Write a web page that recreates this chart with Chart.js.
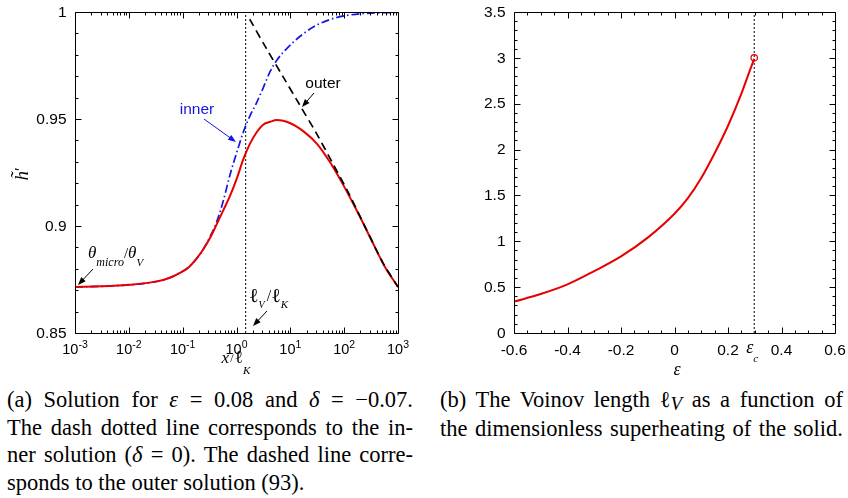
<!DOCTYPE html>
<html><head><meta charset="utf-8">
<script src="https://cdn.jsdelivr.net/npm/chart.js@4.4.0/dist/chart.umd.min.js"></script>
<style>
html,body{margin:0;padding:0;background:#fff;width:848px;height:498px;overflow:hidden;}
#c1{position:absolute;left:0;top:0;}
#c2{position:absolute;left:430px;top:0;}
.cap{position:absolute;font-family:'Liberation Serif','Times New Roman',serif;font-size:22.5px;color:#000;line-height:27.5px;}
.cap div{white-space:nowrap;}
.cap i{font-style:italic;}
.cap .sb{font-style:italic;font-size:19px;position:relative;top:3px;}
</style>
</head><body>
<canvas id="c1" width="420" height="385"></canvas>
<canvas id="c2" width="418" height="385"></canvas>
<div class="cap" style="left:7px;top:386px;width:406px;">
<div class="j"><span>(a) Solution for <i>ε</i> = 0.08 and <i>δ</i> = −0.07.</span></div>
<div class="j"><span>The dash dotted line corresponds to the in-</span></div>
<div class="j"><span>ner solution (<i>δ</i> = 0). The dashed line corre-</span></div>
<div><span>sponds to the outer solution (93).</span></div>
</div>
<div class="cap" style="left:440px;top:386px;width:403px;">
<div class="j"><span>(b) The Voinov length ℓ<span class="sb">V</span> as a function of</span></div>
<div class="j"><span>the dimensionless superheating of the solid.</span></div>
</div>
<script>
// ---------- DATA (left panel) ----------
const RED_X = [0.001,0.00316,0.01,0.0316,0.0562,0.1,0.133,0.178,0.237,0.316,0.422,0.562,0.750,1,1.33,1.78,2.37,3.16,4.22,5.62,10,17.8,31.6,56.2,100,178,316,562,1000];
const RED_Y = [0.8715,0.8718,0.8725,0.874,0.8757,0.8788,0.881,0.8845,0.8888,0.894,0.9004,0.9071,0.9138,0.9218,0.931,0.9385,0.9438,0.9474,0.9487,0.9495,0.9480,0.9441,0.9383,0.9293,0.9184,0.9064,0.8938,0.8812,0.8715];
const INNER_X = [0.001,0.00316,0.01,0.0316,0.0562,0.1,0.133,0.178,0.237,0.316,0.422,0.562,0.750,1,1.33,1.78,2.37,3.16,4.22,5.62,10,17.8,31.6,56.2,100,316,1000];
const INNER_Y = [0.8715,0.8718,0.8725,0.874,0.8757,0.8788,0.881,0.8845,0.8888,0.8945,0.9015,0.9113,0.9235,0.9340,0.9437,0.9515,0.9577,0.9648,0.9722,0.9775,0.9846,0.9900,0.9940,0.9966,0.9982,0.9995,0.9997];
const OUTER_X = [1.76,3.58,7.31,14.9,30.4,62.1,126,257,525,1000];
const OUTER_Y = [0.9966,0.983,0.9698,0.9566,0.9434,0.929,0.9145,0.8985,0.8828,0.8715];
const LV_LK = 1.48;
const LEFT_X_TICKS = [0.001,0.01,0.1,1,10,100,1000];
const LEFT_X_EXP = ['-3','-2','-1','0','1','2','3'];
const LEFT_Y_TICKS = [0.85,0.9,0.95,1];
const LEFT_Y_LABELS = ['0.85','0.9','0.95','1'];

// ---------- DATA (right panel) ----------
const EPS = [-0.6,-0.5,-0.4,-0.3,-0.2,-0.1,0,0.05,0.1,0.15,0.2,0.25,0.28,0.298];
const LV = [0.342,0.425,0.53,0.675,0.835,1.04,1.30,1.47,1.69,1.96,2.26,2.61,2.85,2.99];
const EPS_C = 0.298;
const LV_C = 3.0;
const RIGHT_X_TICKS = [-0.6,-0.4,-0.2,0,0.2,0.4,0.6];
const RIGHT_X_LABELS = ['-0.6','-0.4','-0.2','0','0.2','0.4','0.6'];
const RIGHT_Y_TICKS = [0,0.5,1,1.5,2,2.5,3,3.5];
const RIGHT_Y_LABELS = ['0','0.5','1','1.5','2','2.5','3','3.5'];

const RED = 'rgb(232,0,0)';
const BLUE = 'rgb(20,20,230)';
const SANS = "'Liberation Sans', Arial, sans-serif";
const SERIF = "'Liberation Serif','DejaVu Serif', serif";

function pts(xs, ys){ return xs.map((x,i)=>({x:x, y:ys[i]})); }

function drawRuns(ctx, x, y, parts, align){
  let w = 0;
  parts.forEach(p=>{ ctx.font = p[1]; w += ctx.measureText(p[0]).width + (p[3]||0); });
  let sx = align==='center' ? x - w/2 : (align==='right' ? x - w : x);
  parts.forEach(p=>{ ctx.font = p[1]; ctx.fillText(p[0], sx, y + (p[2]||0)); sx += ctx.measureText(p[0]).width + (p[3]||0); });
}
function arrow(ctx, x1, y1, x2, y2, color){
  ctx.save();
  ctx.strokeStyle = color; ctx.fillStyle = color; ctx.lineWidth = 1;
  const ang = Math.atan2(y2-y1, x2-x1), L = 8, W = 3;
  ctx.beginPath(); ctx.moveTo(x1,y1); ctx.lineTo(x2 - Math.cos(ang)*L*0.8, y2 - Math.sin(ang)*L*0.8); ctx.stroke();
  ctx.beginPath(); ctx.moveTo(x2,y2);
  ctx.lineTo(x2 - L*Math.cos(ang) + W*Math.sin(ang), y2 - L*Math.sin(ang) - W*Math.cos(ang));
  ctx.lineTo(x2 - L*Math.cos(ang) - W*Math.sin(ang), y2 - L*Math.sin(ang) + W*Math.cos(ang));
  ctx.closePath(); ctx.fill();
  ctx.restore();
}
function frameTicks(chart, xMaj, xMin, yMaj, yMin){
  const ctx = chart.ctx, a = chart.chartArea, sx = chart.scales.x, sy = chart.scales.y;
  const L = Math.round(a.left)+0.5, R = Math.round(a.right)+0.5, T = Math.round(a.top)+0.5, B = Math.round(a.bottom)+0.5;
  ctx.save();
  ctx.strokeStyle = '#000'; ctx.lineWidth = 1;
  ctx.beginPath();
  ctx.moveTo(L,T); ctx.lineTo(R,T); ctx.lineTo(R,B); ctx.lineTo(L,B); ctx.closePath();
  const tx = (v, len)=>{ const p = Math.round(sx.getPixelForValue(v))+0.5; ctx.moveTo(p,B); ctx.lineTo(p,B-len); ctx.moveTo(p,T); ctx.lineTo(p,T+len); };
  const ty = (v, len)=>{ const p = Math.round(sy.getPixelForValue(v))+0.5; ctx.moveTo(L,p); ctx.lineTo(L+len,p); ctx.moveTo(R,p); ctx.lineTo(R-len,p); };
  xMaj.forEach(v=>tx(v,6)); xMin.forEach(v=>tx(v,3));
  yMaj.forEach(v=>ty(v,6)); yMin.forEach(v=>ty(v,3));
  ctx.stroke();
  ctx.restore();
}

// ---------- LEFT CHART ----------
const leftDeco = {
  id:'leftDeco',
  afterDraw(chart){
    const ctx = chart.ctx, a = chart.chartArea, sx = chart.scales.x, sy = chart.scales.y;
    const xMin = [];
    for (let d = -3; d < 3; d++) for (let k = 2; k <= 9; k++) xMin.push(k*Math.pow(10,d));
    const yMin = [];
    for (let i = 0; i <= 15; i++) { const v = 0.85 + i*0.01; if (i % 5) yMin.push(v); }
    frameTicks(chart, LEFT_X_TICKS, xMin, LEFT_Y_TICKS, yMin);
    ctx.save();
    ctx.fillStyle = '#000';
    ctx.font = '15.5px ' + SANS; ctx.textAlign = 'right'; ctx.textBaseline = 'middle';
    LEFT_Y_TICKS.forEach((v,i)=>ctx.fillText(LEFT_Y_LABELS[i], a.left - 8.5, sy.getPixelForValue(v)+0.5));
    ctx.textAlign = 'left'; ctx.textBaseline = 'alphabetic';
    LEFT_X_TICKS.forEach((v,i)=>{
      drawRuns(ctx, sx.getPixelForValue(v), 353.5, [['10','14.5px '+SANS,0],[LEFT_X_EXP[i],'10.5px '+SANS,-6]], 'center');
    });
    // axis titles
    drawRuns(ctx, 236, 363, [['x','italic 17px '+SERIF,0,1],['/','12px '+SERIF,-1,1],['ℓ','18px '+SERIF,0,0],['K','italic 11px '+SERIF,11]], 'center');
    ctx.save(); ctx.translate(28, 174); ctx.rotate(-Math.PI/2);
    drawRuns(ctx, 0, 0, [['h\u0303','italic 19px '+SERIF,0],['\u2032','17px '+SERIF,-2]], 'center');
    ctx.restore();
    // annotations
    ctx.fillStyle = BLUE; ctx.font = '15.5px ' + SANS; ctx.textAlign = 'center';
    ctx.fillText('inner', 197, 114);
    arrow(ctx, 204, 119, 236, 142, BLUE);
    ctx.fillStyle = '#000';
    ctx.fillText('outer', 323, 88);
    arrow(ctx, 314, 93, 302, 107, '#000');
    ctx.textAlign = 'left';
    drawRuns(ctx, 88, 258, [['θ','italic 17px '+SERIF,0,0],['micro','italic 12px '+SERIF,8,0],['/','15px '+SERIF,0,0],['θ','italic 17px '+SERIF,0,0],['V','italic 11px '+SERIF,8,0]], 'left');
    arrow(ctx, 93, 269, 78, 285, '#000');
    drawRuns(ctx, 249, 302, [['ℓ','20px '+SERIF,0,0],['V','italic 10px '+SERIF,6,2],['/','16px '+SERIF,-1,0],['ℓ','20px '+SERIF,0,0],['K','italic 11px '+SERIF,6,0]], 'left');
    arrow(ctx, 267, 311, 253, 326, '#000');
    ctx.restore();
  }
};

new Chart(document.getElementById('c1'), {
  type:'scatter',
  data:{ datasets:[
    { label:'outer', data:pts(OUTER_X, OUTER_Y), showLine:true, borderColor:'#000', borderWidth:1.7, borderDash:[8,5], pointRadius:0, order:0, tension:0.3 },
    { label:'solution', data:pts(RED_X, RED_Y), showLine:true, borderColor:RED, borderWidth:2, pointRadius:0, order:1, cubicInterpolationMode:'monotone' },
    { label:'inner', data:pts(INNER_X, INNER_Y), showLine:true, borderColor:BLUE, borderWidth:1.7, borderDash:[8,3,1.5,3], pointRadius:0, order:2, cubicInterpolationMode:'monotone' },
    { label:'lV', data:[{x:LV_LK,y:0.85},{x:LV_LK,y:1}], showLine:true, borderColor:'#000', borderWidth:1, borderDash:[2,2], pointRadius:0, order:3 }
  ]},
  options:{
    responsive:false, animation:false, events:[],
    layout:{ padding:{ left:75, right:22, top:12, bottom:52 } },
    plugins:{ legend:{display:false}, tooltip:{enabled:false} },
    scales:{
      x:{ type:'logarithmic', min:0.001, max:1000, display:false },
      y:{ type:'linear', min:0.85, max:1, display:false }
    }
  },
  plugins:[leftDeco]
});

// ---------- RIGHT CHART ----------
const rightDeco = {
  id:'rightDeco',
  afterDraw(chart){
    const ctx = chart.ctx, a = chart.chartArea, sx = chart.scales.x, sy = chart.scales.y;
    const xMin = [], yMin = [];
    for (let i = 0; i <= 24; i++) { if (i % 4) xMin.push(-0.6 + i*0.05); }
    for (let i = 0; i <= 35; i++) { if (i % 5) yMin.push(i*0.1); }
    frameTicks(chart, RIGHT_X_TICKS, xMin, RIGHT_Y_TICKS, yMin);
    ctx.save();
    ctx.fillStyle = '#000';
    ctx.font = '15.5px ' + SANS; ctx.textAlign = 'right'; ctx.textBaseline = 'middle';
    RIGHT_Y_TICKS.forEach((v,i)=>ctx.fillText(RIGHT_Y_LABELS[i], a.left - 8.5, sy.getPixelForValue(v)+0.5));
    ctx.textAlign = 'center'; ctx.textBaseline = 'alphabetic';
    RIGHT_X_TICKS.forEach((v,i)=>ctx.fillText(RIGHT_X_LABELS[i], sx.getPixelForValue(v), 354.5));
    ctx.textAlign = 'left';
    drawRuns(ctx, sx.getPixelForValue(EPS_C) - 8, 353, [['ε','italic 18px '+SERIF,0,0],['c','italic 11px '+SERIF,9,0]], 'left');
    ctx.font = 'italic 18px ' + SERIF; ctx.textAlign = 'center';
    ctx.fillText('ε', 247, 375);
    ctx.save(); ctx.translate(469, 180); ctx.rotate(-Math.PI/2);
    ctx.textAlign = 'left';
    drawRuns(ctx, 0, 0, [['ℓ','20px '+SERIF,0,0],['v','italic 10px '+SERIF,5,2],['/','16px '+SERIF,-1,0],['ℓ','20px '+SERIF,0,0],['K','italic 11px '+SERIF,5,0]], 'center');
    ctx.restore();
    ctx.restore();
  }
};

new Chart(document.getElementById('c2'), {
  type:'scatter',
  data:{ datasets:[
    { label:'lV', data:pts(EPS, LV), showLine:true, borderColor:RED, borderWidth:2, pointRadius:0, order:1, cubicInterpolationMode:'monotone' },
    { label:'critical', data:[{x:EPS_C, y:LV_C}], showLine:false, borderColor:RED, backgroundColor:'rgba(0,0,0,0)', borderWidth:1.2, pointRadius:3.2, pointStyle:'circle', order:0 },
    { label:'epsc', data:[{x:EPS_C,y:0},{x:EPS_C,y:3.5}], showLine:true, borderColor:'#000', borderWidth:1, borderDash:[2,2], pointRadius:0, order:2 }
  ]},
  options:{
    responsive:false, animation:false, events:[],
    layout:{ padding:{ left:84, right:13, top:12, bottom:52 } },
    plugins:{ legend:{display:false}, tooltip:{enabled:false} },
    scales:{
      x:{ type:'linear', min:-0.6, max:0.6, display:false },
      y:{ type:'linear', min:0, max:3.5, display:false }
    }
  },
  plugins:[rightDeco]
});

// justify caption lines to the column width
document.querySelectorAll('.cap').forEach(cap=>{
  const W = parseFloat(cap.style.width);
  cap.querySelectorAll('div.j').forEach(d=>{
    const span = d.firstElementChild;
    const nat = span.getBoundingClientRect().width;
    const spaces = (span.textContent.match(/ /g)||[]).length;
    if (spaces) span.style.wordSpacing = ((W - nat)/spaces) + 'px';
  });
});
</script>
</body></html>
